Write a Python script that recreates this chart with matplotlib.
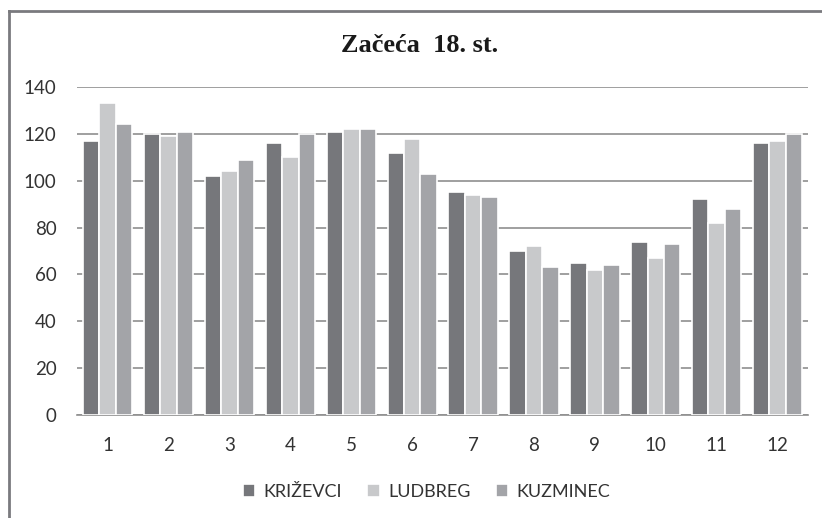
import matplotlib.pyplot as plt
import numpy as np
from matplotlib.lines import Line2D

months = ['1', '2', '3', '4', '5', '6', '7', '8', '9', '10', '11', '12']
krizevci = [117, 120, 102, 116, 121, 112, 95, 70, 65, 74, 92, 116]
ludbreg = [133, 119, 104, 110, 122, 118, 94, 72, 62, 67, 82, 117]
kuzminec = [124, 121, 109, 120, 122, 103, 93, 63, 64, 73, 88, 120]
series_names = ['KRIŽEVCI', 'LUDBREG', 'KUZMINEC']
colors = ['#76777b', '#c8c9cb', '#a3a4a8']

fig = plt.figure(figsize=(8.22, 5.18), dpi=100)
ax = fig.add_axes([0.094, 0.199, 0.889, 0.633])

x = np.arange(len(months))
w = 0.27
for i, (vals, name, c) in enumerate(zip([krizevci, ludbreg, kuzminec], series_names, colors)):
    ax.bar(x + (i - 1) * w, vals, width=w, color=c, edgecolor='white',
           linewidth=1.2, label=name, zorder=3)

ax.set_xlim(-0.5, len(months) - 0.5)
ax.set_ylim(0, 140)
ax.set_yticks(range(0, 141, 20))
ax.set_xticks(x)
ax.set_xticklabels(months)
ax.yaxis.grid(True, color='#8f8f8f', linewidth=1.2, zorder=0)
for s in ['top', 'right', 'left']:
    ax.spines[s].set_visible(False)
ax.spines['bottom'].set_color('#8f8f8f')
ax.spines['bottom'].set_linewidth(1.2)
ax.tick_params(length=0, labelsize=13.5, colors='#333333')
ax.tick_params(axis='x', pad=16)
ax.tick_params(axis='y', pad=15)
for lab in ax.get_xticklabels() + ax.get_yticklabels():
    lab.set_family('Lato')

fig.text(0.511, 0.913, 'Začeća  18. st.', ha='center', va='center',
         family='Liberation Serif', fontweight='bold', fontsize=19, color='#1a1a1a')

leg = ax.legend(loc='upper center', bbox_to_anchor=(0.478, -0.16), ncol=3, frameon=False,
                handlelength=0.7, handleheight=0.7, handletextpad=0.45, columnspacing=1.4,
                prop={'family': 'Lato', 'size': 13})
for t in leg.get_texts():
    t.set_color('#333333')

# outer frame (cut off at right and bottom)
fig.add_artist(Line2D([9 / 822, 9 / 822], [0, 1 - 11 / 518], transform=fig.transFigure,
                      color='#7a7a7e', linewidth=2))
fig.add_artist(Line2D([9 / 822, 1], [1 - 11 / 518, 1 - 11 / 518], transform=fig.transFigure,
                      color='#7a7a7e', linewidth=2))

fig.savefig('out.png', dpi=100)
